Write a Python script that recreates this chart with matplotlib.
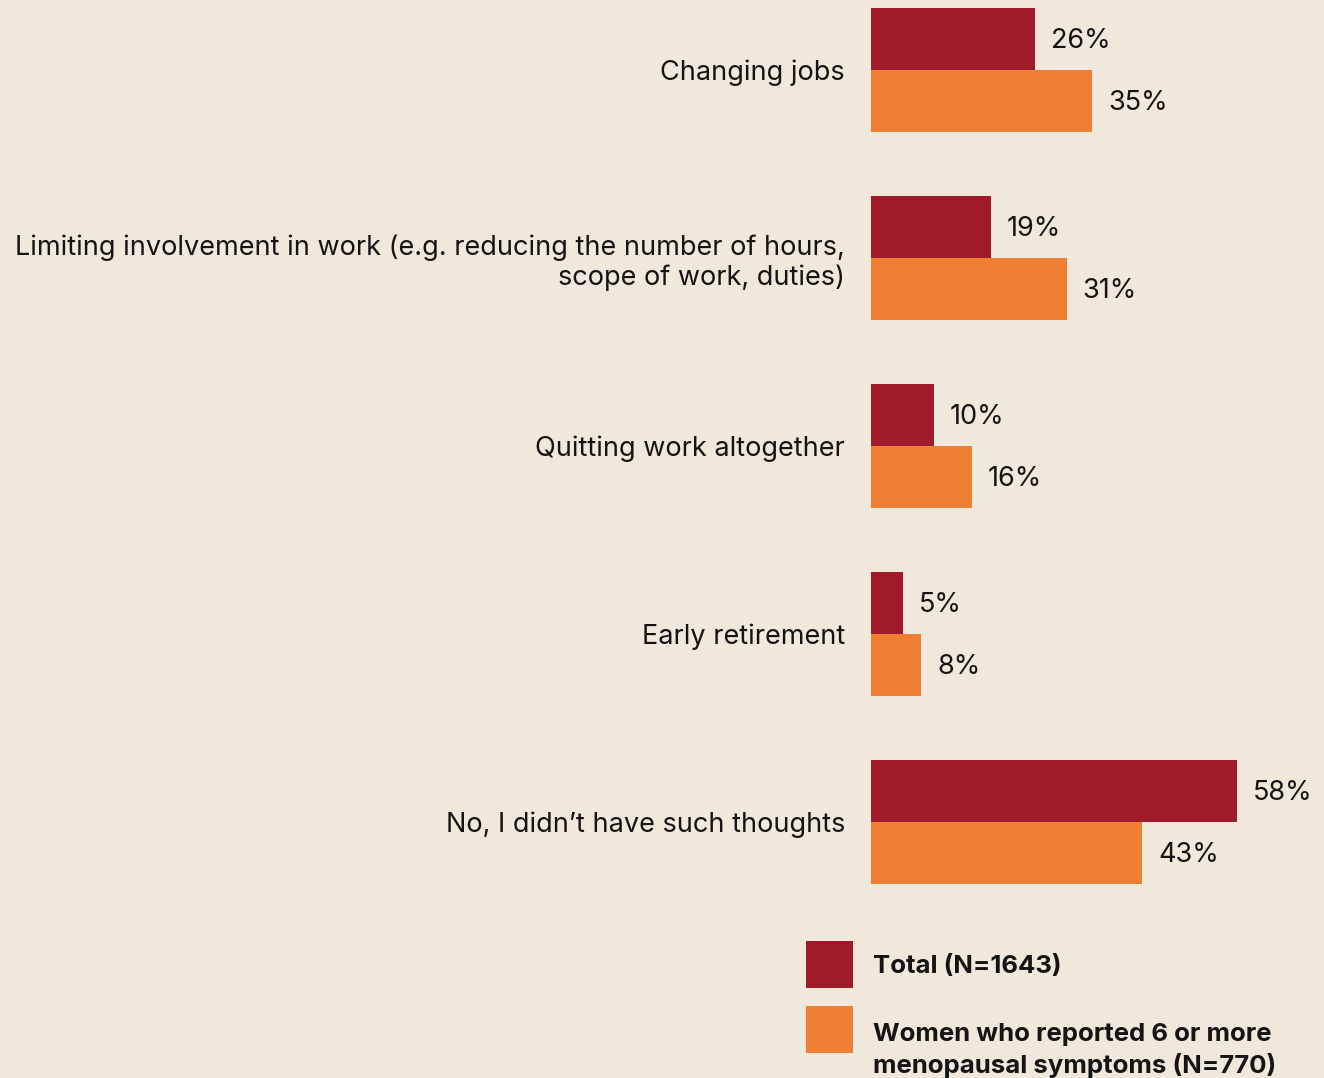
import matplotlib
matplotlib.use("Agg")
import matplotlib.pyplot as plt
from matplotlib.patches import Rectangle

categories = [
    "Changing jobs",
    "Limiting involvement in work (e.g. reducing the number of hours,\nscope of work, duties)",
    "Quitting work altogether",
    "Early retirement",
    "No, I didn\u2019t have such thoughts",
]
total = [26, 19, 10, 5, 58]
women6 = [35, 31, 16, 8, 43]
series_names = ["Total (N=1643)", "Women who reported 6 or more\nmenopausal symptoms (N=770)"]

BG = "#F0E8DA"
RED = "#A01B2A"
ORANGE = "#EE7F33"
TXT = "#141414"

plt.rcParams['font.family'] = ['Inter', 'DejaVu Sans']

W, H = 1324, 1078
fig = plt.figure(figsize=(W / 100, H / 100), dpi=100, facecolor=BG)
ax = fig.add_axes([871 / W, 0, 1 - 871 / W, 1])
ax.set_facecolor(BG)

px_per_unit = 188.0
ax.set_ylim((H - 70) / px_per_unit, -70 / px_per_unit)
ax.set_xlim(0, (W - 871) / 6.31)

h = 62 / px_per_unit
ys = list(range(len(categories)))
ax.barh([y - h / 2 for y in ys], total, height=h, color=RED, linewidth=0)
ax.barh([y + h / 2 for y in ys], women6, height=h, color=ORANGE, linewidth=0)

for y, v in zip(ys, total):
    ax.annotate(f"{v}%", (v, y - h / 2), xytext=(16, -2), textcoords="offset pixels",
                va="center", ha="left", fontsize=19.5, color=TXT)
for y, v in zip(ys, women6):
    ax.annotate(f"{v}%", (v, y + h / 2), xytext=(16, -2), textcoords="offset pixels",
                va="center", ha="left", fontsize=19.5, color=TXT)

ax.set_yticks(ys)
ax.set_yticklabels(categories, fontsize=19.5, color=TXT, ha="right", linespacing=1.15)
ax.tick_params(axis="y", length=0, pad=26 * 0.72)
ax.set_xticks([])
for s in ax.spines.values():
    s.set_visible(False)

# legend
for (y0, col) in [(941, RED), (1006, ORANGE)]:
    fig.patches.append(Rectangle((806 / W, 1 - (y0 + 47) / H), 47 / W, 47 / H,
                                 transform=fig.transFigure, color=col, linewidth=0))
fig.text(873 / W, 1 - 967 / H, series_names[0], fontsize=18.5, fontweight="bold",
         color=TXT, va="center", ha="left")
fig.text(873 / W, 1 - 1050 / H, series_names[1], fontsize=18.5, fontweight="bold",
         color=TXT, va="center", ha="left", linespacing=1.35)

fig.savefig("out.png", dpi=100, facecolor=BG)
